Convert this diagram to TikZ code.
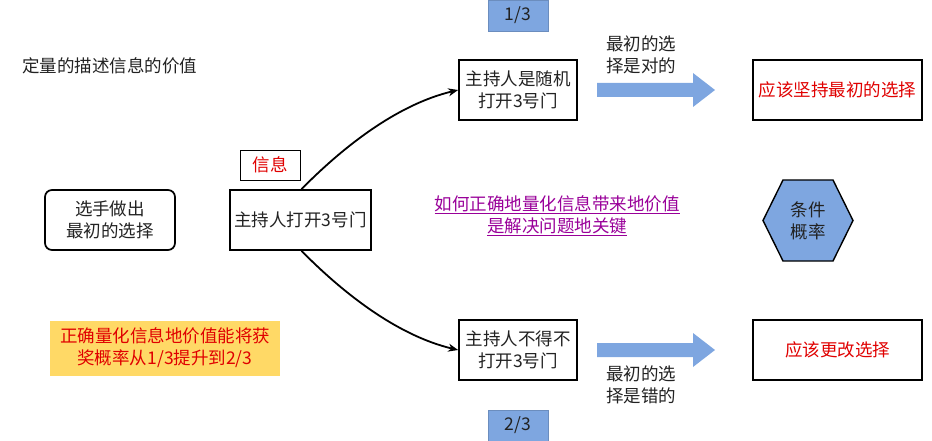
\documentclass[tikz,border=0pt]{standalone}
\usepackage{fontspec}
\setmainfont{Noto Sans CJK SC}
\usetikzlibrary{arrows.meta}
\definecolor{bluefill}{HTML}{7EA6E0}
\definecolor{yellowfill}{HTML}{FFD966}
\definecolor{redtext}{HTML}{E00000}
\definecolor{purpletext}{HTML}{990099}
\definecolor{graytext}{HTML}{222222}
\tikzset{
  every node/.style={font=\fontsize{17.5}{22}\selectfont, text=graytext, align=center, inner sep=0pt},
  sbox/.style={draw=black, line width=1.7pt, fill=white},
  bluebox/.style={fill=bluefill, draw=bluefill!85!black, line width=0.3pt},
  bigarrow/.style={fill=bluefill},
  conn/.style={line width=1.8pt, -{Stealth[length=10pt,width=8pt,open]}},
}
\begin{document}
\begin{tikzpicture}[x=1pt,y=-1pt]
\useasboundingbox (0,0) rectangle (932,441);
% title
\node (title) at (110,66) {定量的描述信息的价值};
% left box
\node[sbox, rounded corners=7pt, minimum width=130pt, minimum height=60pt] (choice) at (110,220) {选手做出\\最初的选择};
% info label
\node[draw=black, line width=0.9pt, minimum width=60pt, minimum height=30pt, text=redtext] (info) at (270,165) {信息};
% host opens
\node[sbox, minimum width=141pt, minimum height=60pt] (host) at (300.5,220) {主持人打开3号门};
% probability boxes
\node[bluebox, minimum width=60pt, minimum height=31pt] (p13) at (518,15.5) {1/3};
\node[bluebox, minimum width=60pt, minimum height=31pt] (p23) at (518,425.5) {2/3};
% branch boxes
\node[sbox, minimum width=118pt, minimum height=60pt] (random) at (518,90) {主持人是随机\\打开3号门};
\node[sbox, minimum width=118pt, minimum height=60pt] (forced) at (518,350) {主持人不得不\\打开3号门};
% result boxes
\node[sbox, minimum width=169pt, minimum height=60pt, text=redtext] (keep) at (837.5,90) {应该坚持最初的选择};
\node[sbox, minimum width=169pt, minimum height=60pt, text=redtext] (change) at (837.5,350) {应该更改选择};
% arrow labels
\node (rightlbl) at (641,55) {最初的选\\择是对的};
\node (wronglbl) at (641,385) {最初的选\\择是错的};
% big arrows
\fill[bigarrow] (597,83) -- (693,83) -- (693,73) -- (715,90) -- (693,107) -- (693,97) -- (597,97) -- cycle;
\fill[bigarrow] (597,343) -- (693,343) -- (693,333) -- (715,350) -- (693,367) -- (693,357) -- (597,357) -- cycle;
% purple text
\node[text=purpletext] (key) at (557,216) {\underline{如何正确地量化信息带来地价值}\\\underline{是解决问题地关键}};
% hexagon
\draw[fill=bluefill, draw=black, line width=1.4pt] (763,220.5) -- (783,180) -- (833,180) -- (853,220.5) -- (833,261) -- (783,261) -- cycle;
\node (cond) at (808,220.5) {条件\\概率};
% yellow note
\node[fill=yellowfill, minimum width=230pt, minimum height=55pt, text=redtext] (note) at (165,348) {正确量化信息地价值能将获\\奖概率从1/3提升到2/3};
% connectors
\draw[conn] ([xshift=1pt]host.north) .. controls (340,150) and (395,105) .. (random.west);
\draw[conn] ([xshift=1pt]host.south) .. controls (340,290) and (395,335) .. (forced.west);
\end{tikzpicture}
\end{document}
